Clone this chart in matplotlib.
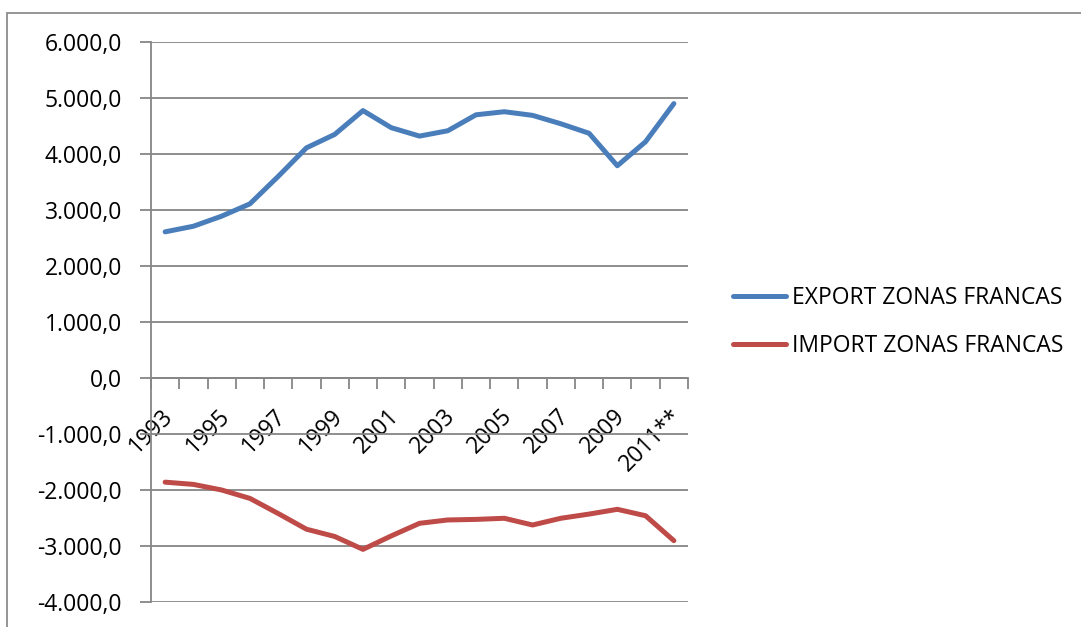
import matplotlib
matplotlib.use("Agg")
import matplotlib.pyplot as plt
import matplotlib.transforms as mtransforms
from matplotlib.patches import Rectangle
from matplotlib.ticker import FuncFormatter

years = ["1993", "1994", "1995", "1996", "1997", "1998", "1999", "2000", "2001", "2002",
         "2003", "2004", "2005", "2006", "2007", "2008", "2009", "2010", "2011**"]
export_zf = [2610, 2710, 2890, 3110, 3600, 4110, 4350, 4775, 4470, 4320,
             4415, 4700, 4755, 4690, 4540, 4370, 3790, 4220, 4900]
import_zf = [-1860, -1900, -2000, -2150, -2420, -2700, -2830, -3060, -2820, -2595,
             -2535, -2525, -2505, -2625, -2505, -2430, -2345, -2460, -2905]
series_names = ["EXPORT ZONAS FRANCAS", "IMPORT ZONAS FRANCAS"]

plt.rcParams["font.family"] = ["Open Sans", "DejaVu Sans"]
W, H = 1081, 627
fig = plt.figure(figsize=(W / 100, H / 100), dpi=100)

# outer chart border (only left/top visible)
fig.patches.append(Rectangle((7.5 / W, -0.1), 1.2, 1 - 12.5 / H + 0.1, transform=fig.transFigure,
                             fill=False, edgecolor="#8c8c8c", linewidth=1.3))

ax = fig.add_axes([151 / W, 1 - 602 / H, (688 - 151) / W, (602 - 42) / H])
grid_col = "#868686"
fs = 16.5

x = list(range(len(years)))
ax.plot(x, export_zf, color="#4A7EBB", linewidth=3.6, solid_capstyle="round", label=series_names[0])
ax.plot(x, import_zf, color="#BE4B48", linewidth=3.6, solid_capstyle="round", label=series_names[1])

ax.set_xlim(-0.5, len(years) - 0.5)
ax.set_ylim(-4000, 6000)
ax.set_yticks(range(-4000, 6001, 1000))
ax.yaxis.set_major_formatter(FuncFormatter(
    lambda v, p: f"{v:,.1f}".replace(",", "X").replace(".", ",").replace("X", ".")))
ax.grid(axis="y", color=grid_col, linewidth=1.3)
ax.set_axisbelow(True)

for s in ["top", "right"]:
    ax.spines[s].set_visible(False)
ax.spines["left"].set_color(grid_col)
ax.spines["left"].set_linewidth(1.3)
ax.spines["bottom"].set_position(("data", 0))
ax.spines["bottom"].set_color(grid_col)
ax.spines["bottom"].set_linewidth(1.3)

ax.tick_params(axis="y", length=8, width=1.3, color=grid_col, labelsize=fs, pad=13, labelcolor="black")
# category boundaries as tick marks, labels at centres
ax.set_xticks([i - 0.5 for i in range(len(years) + 1)], minor=True)
ax.set_xticks(x)
ax.set_xticklabels([y if i % 2 == 0 else "" for i, y in enumerate(years)],
                   rotation=45, ha="right", rotation_mode="anchor", fontsize=fs)
ax.tick_params(axis="x", which="major", length=0, pad=19)
ax.tick_params(axis="x", which="minor", length=8, width=1.3, color=grid_col, direction="out")
shift = mtransforms.ScaledTranslation(-4 / 100, 0, fig.dpi_scale_trans)
for lbl in ax.get_xticklabels():
    lbl.set_transform(lbl.get_transform() + shift)

fig.legend(loc="center left", bbox_to_anchor=(722 / W, 1 - 322 / H), frameon=False,
           fontsize=fs, handlelength=2.3, handletextpad=0.25, labelspacing=1.05, borderpad=0)

fig.savefig("out.png", dpi=100)
